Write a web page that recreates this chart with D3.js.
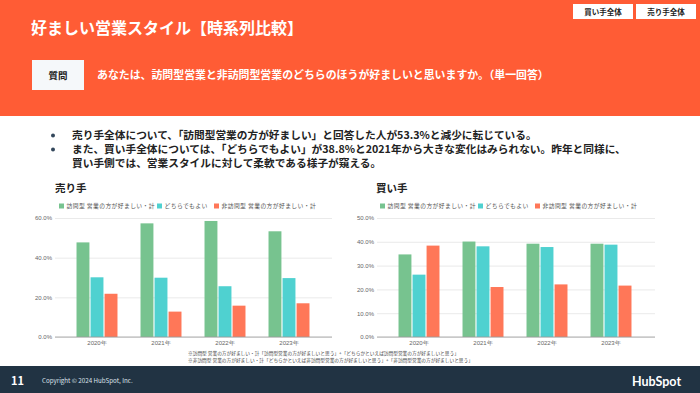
<!doctype html>
<html lang="ja">
<head>
<meta charset="utf-8">
<script src="https://cdn.jsdelivr.net/npm/d3@7"></script>
<style>
body { margin: 0; background: #fff; }
svg { display: block; font-family: "Noto Sans CJK JP", "Noto Sans", sans-serif; }
.tick text { fill: #666; font-size: 6px; }
.grid .tick line { stroke: #e4e4e4; stroke-width: 0.8; }
</style>
</head>
<body>
<svg id="chart" width="700" height="393"></svg>
<script>
// ---------------- data ----------------
var years = ['2020年', '2021年', '2022年', '2023年']
var seriesNames = ['訪問型 営業の方が好ましい・計', 'どちらでもよい', '非訪問型 営業の方が好ましい・計']
var seriesColors = ['#77c38f', '#4fd1d0', '#ff7758']

var sellerVisit = [47.7, 57.3, 58.5, 53.3]
var sellerEither = [30.1, 29.9, 25.6, 29.7]
var sellerNonVisit = [21.8, 12.8, 15.8, 17.0]

var buyerVisit = [34.7, 40.1, 39.2, 39.2]
var buyerEither = [26.2, 38.1, 37.8, 38.8]
var buyerNonVisit = [38.4, 21.0, 22.1, 21.6]

var sellerTicks = [0, 20, 40, 60]
var buyerTicks = [0, 10, 20, 30, 40, 50]

var bullets = [
	['売り手全体について、「訪問型営業の方が好ましい」と回答した人が53.3%と減少に転じている。'],
	['また、買い手全体については、「どちらでもよい」が38.8%と2021年から大きな変化はみられない。昨年と同様に、',
	 '買い手側では、営業スタイルに対して柔軟である様子が窺える。']
]
var notes = [
	'※訪問型 営業の方が好ましい・計「訪問型営業の方が好ましいと思う」+「どちらかといえば訪問型営業の方が好ましいと思う」',
	'※非訪問型 営業の方が好ましい・計「どちらかといえば非訪問型営業の方が好ましいと思う」+「非訪問型営業の方が好ましいと思う」'
]

// ---------------- page frame ----------------
var svg = d3.select('#chart')

svg.append('rect').attr('x', 0).attr('y', 0).attr('width', 700).attr('height', 116).attr('fill', '#ff5c35')
svg.append('text').attr('x', 31).attr('y', 34)
	.attr('fill', '#fff').attr('font-size', 16).attr('font-weight', 700)
	.text('好ましい営業スタイル【時系列比較】')

// top buttons
;[['買い手全体', 573, 60], ['売り手全体', 636, 60]].forEach(function(b) {
	svg.append('rect').attr('x', b[1]).attr('y', 4).attr('width', b[2]).attr('height', 15).attr('fill', '#fff')
	svg.append('text').attr('x', b[1] + b[2] / 2).attr('y', 14.5).attr('text-anchor', 'middle')
		.attr('font-size', 7.5).attr('font-weight', 700).attr('fill', '#222').text(b[0])
})

// question
svg.append('rect').attr('x', 32).attr('y', 60).attr('width', 52).attr('height', 30).attr('fill', '#f5f8fa')
svg.append('text').attr('x', 58).attr('y', 78.5).attr('text-anchor', 'middle')
	.attr('font-size', 9.5).attr('font-weight', 700).attr('fill', '#222').text('質問')
svg.append('text').attr('x', 97).attr('y', 79)
	.attr('font-size', 10.9).attr('font-weight', 700).attr('fill', '#fff')
	.text('あなたは、訪問型営業と非訪問型営業のどちらのほうが好ましいと思いますか。（単一回答）')

// bullets
var by = 139
bullets.forEach(function(lines) {
	svg.append('circle').attr('cx', 53).attr('cy', by - 3.5).attr('r', 2).attr('fill', '#33475b')
	lines.forEach(function(l) {
		svg.append('text').attr('x', 72).attr('y', by)
			.attr('font-size', 10.7).attr('font-weight', 700).attr('fill', '#222').text(l)
		by += 14
	})
})

// ---------------- charts ----------------
function drawPanel(o) {
	var g = svg.append('g')
	g.append('text').attr('x', o.titleX).attr('y', 192)
		.attr('font-size', 10.5).attr('font-weight', 700).attr('fill', '#222').text(o.title)

	var y = d3.scaleLinear().domain([0, o.max]).range([337, 218])
	var x0 = d3.scaleBand().domain(years).range(o.band).paddingInner(0.36).paddingOuter(0.18)
	var x1 = d3.scaleBand().domain(seriesNames).range([0, x0.bandwidth()]).paddingInner(0.08)

	// grid + y labels
	g.append('g').attr('class', 'grid')
		.attr('transform', 'translate(' + o.gridL + ',0)')
		.call(d3.axisLeft(y).tickValues(o.ticks).tickSize(-(o.gridR - o.gridL)).tickPadding(3)
			.tickFormat(function(d) { return d.toFixed(1) + '%' }))
		.call(function(a) { a.select('.domain').remove() })

	// bars
	var rows = years.map(function(yr, i) {
		return { year: yr, vals: [o.data[0][i], o.data[1][i], o.data[2][i]] }
	})
	var grp = g.selectAll('g.yr').data(rows).enter().append('g')
		.attr('transform', function(d) { return 'translate(' + x0(d.year) + ',0)' })
	grp.selectAll('rect').data(function(d) { return d.vals }).enter().append('rect')
		.attr('x', function(d, i) { return x1(seriesNames[i]) })
		.attr('width', x1.bandwidth())
		.attr('y', function(d) { return y(d) })
		.attr('height', function(d) { return y(0) - y(d) })
		.attr('fill', function(d, i) { return seriesColors[i] })

	// baseline + x labels
	g.append('line').attr('x1', o.gridL).attr('x2', o.gridR).attr('y1', y(0)).attr('y2', y(0))
		.attr('stroke', '#999').attr('stroke-width', 0.8)
	g.append('g').attr('transform', 'translate(0,' + y(0) + ')')
		.call(d3.axisBottom(x0).tickSize(0).tickPadding(4))
		.call(function(a) { a.select('.domain').remove() })

	// legend
	var lg = g.append('g')
	seriesNames.forEach(function(n, i) {
		lg.append('rect').attr('x', o.legendX[i]).attr('y', 203.5).attr('width', 5).attr('height', 5).attr('fill', seriesColors[i])
		lg.append('text').attr('x', o.legendX[i] + 7.5).attr('y', 208.3)
			.attr('font-size', 5.8).attr('letter-spacing', 0.4).attr('fill', '#555').text(n)
	})
}

drawPanel({
	title: '売り手', titleX: 55, max: 60, ticks: sellerTicks,
	gridL: 55, gridR: 332, band: [65, 321],
	legendX: [59, 157, 214],
	data: [sellerVisit, sellerEither, sellerNonVisit]
})
drawPanel({
	title: '買い手', titleX: 376, max: 50, ticks: buyerTicks,
	gridL: 377, gridR: 655, band: [387, 643],
	legendX: [380, 478, 535],
	data: [buyerVisit, buyerEither, buyerNonVisit]
})

// footnotes
notes.forEach(function(t, i) {
	svg.append('text').attr('x', 188).attr('y', 355 + i * 6.5)
		.attr('font-size', 4.7).attr('fill', '#444').text(t)
})

// ---------------- footer ----------------
svg.append('rect').attr('x', 0).attr('y', 366).attr('width', 700).attr('height', 27).attr('fill', '#213343')
svg.append('text').attr('x', 11).attr('y', 385).attr('fill', '#fff')
	.attr('font-size', 11).attr('font-weight', 700).text('11')
svg.append('text').attr('x', 42).attr('y', 383).attr('fill', '#dfe3eb')
	.attr('font-size', 6.2).text('Copyright © 2024 HubSpot, Inc.')
svg.append('text').attr('x', 632).attr('y', 386).attr('fill', '#fff')
	.attr('font-family', 'Lato, sans-serif').attr('font-size', 12.5).attr('font-weight', 700).text('HubSpot')
</script>
</body>
</html>
